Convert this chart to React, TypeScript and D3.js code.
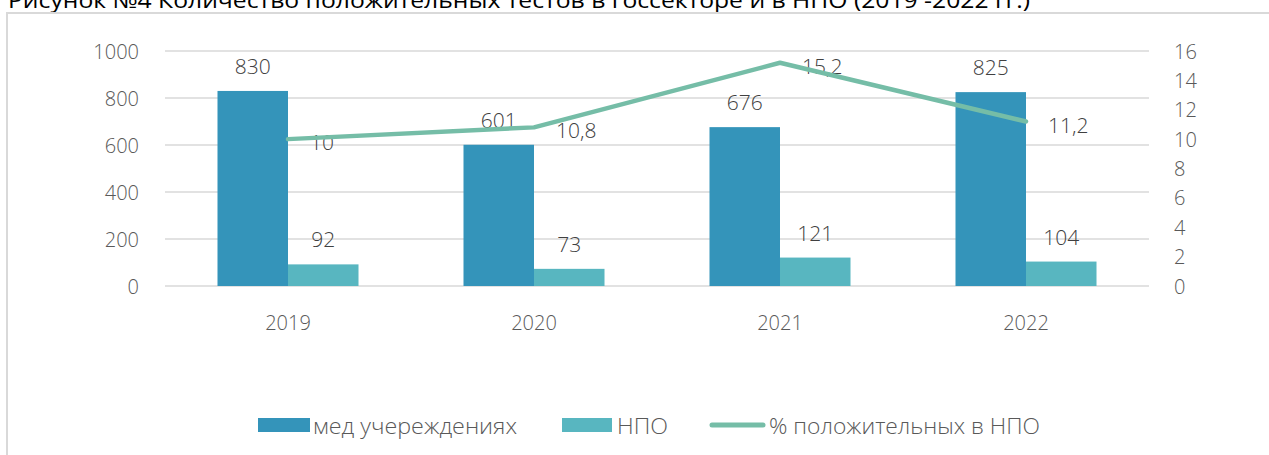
import React, { useEffect, useRef } from 'react';
import * as d3 from 'd3';

const years = ['2019', '2020', '2021', '2022'];
const medValues = [830, 601, 676, 825];
const npoValues = [92, 73, 121, 104];
const pctValues = [10, 10.8, 15.2, 11.2];
const leftTicks = [0, 200, 400, 600, 800, 1000];
const rightTicks = [0, 2, 4, 6, 8, 10, 12, 14, 16];
const seriesNames = ['мед учереждениях', 'НПО', '% положительных в НПО'];
const title = 'Рисунок №4 Количество положительных тестов в госсекторе и в НПО (2019 -2022 гг.)';

const W = 1269;
const H = 455;
const FONT = "'Open Sans', sans-serif";

export default function App() {
  const ref = useRef<SVGSVGElement>(null);

  useEffect(() => {
    const svg = d3.select(ref.current);
    svg.selectAll('*').remove();

    const m = { left: 165, right: 1149, top: 51, bottom: 286 };
    const blue = '#3494ba';
    const teal = '#58b6c0';
    const green = '#75bda7';

    // title, cut at the top like the source
    svg.append('text')
      .attr('x', 8).attr('y', 8)
      .attr('font-family', FONT).attr('font-size', 21)
      .attr('fill', '#000')
      .attr('textLength', 1022).attr('lengthAdjust', 'spacingAndGlyphs')
      .text(title);

    // chart frame
    svg.append('rect')
      .attr('x', 7).attr('y', 13)
      .attr('width', W).attr('height', H)
      .attr('fill', 'none').attr('stroke', '#d9d9d9').attr('stroke-width', 2);

    const x = d3.scaleBand().domain(years).range([m.left, m.right]).padding(0);
    const y = d3.scaleLinear().domain([0, 1000]).range([m.bottom, m.top]);
    const y2 = d3.scaleLinear().domain([0, 16]).range([m.bottom, m.top]);
    const bw = x.bandwidth() * 0.2866;
    const cx = (d: string) => (x(d) as number) + x.bandwidth() / 2;

    // gridlines
    svg.append('g').selectAll('line').data(leftTicks).join('line')
      .attr('x1', m.left).attr('x2', m.right)
      .attr('y1', d => y(d)).attr('y2', d => y(d))
      .attr('stroke', '#d9d9d9').attr('stroke-width', 1.5);

    const axisText = (g: any) => g
      .attr('font-family', FONT).attr('font-size', 20).attr('font-weight', 300).attr('fill', '#595959');

    // left axis labels
    svg.append('g').call(axisText).selectAll('text').data(leftTicks).join('text')
      .attr('x', 139).attr('y', d => y(d))
      .attr('text-anchor', 'end').attr('dominant-baseline', 'central')
      .text(d => d);

    // right axis labels
    svg.append('g').call(axisText).selectAll('text').data(rightTicks).join('text')
      .attr('x', 1174).attr('y', d => y2(d))
      .attr('dominant-baseline', 'central')
      .text(d => d);

    // x labels
    svg.append('g').call(axisText).selectAll('text').data(years).join('text')
      .attr('x', d => cx(d)).attr('y', 322)
      .attr('text-anchor', 'middle').attr('dominant-baseline', 'central')
      .text(d => d);

    // bars
    const bars = svg.append('g');
    bars.selectAll('rect.med').data(medValues).join('rect').attr('class', 'med')
      .attr('x', (d, i) => cx(years[i]) - bw).attr('width', bw)
      .attr('y', d => y(d)).attr('height', d => y(0) - y(d))
      .attr('fill', blue);
    bars.selectAll('rect.npo').data(npoValues).join('rect').attr('class', 'npo')
      .attr('x', (d, i) => cx(years[i])).attr('width', bw)
      .attr('y', d => y(d)).attr('height', d => y(0) - y(d))
      .attr('fill', teal);

    // bar labels
    const lab = svg.append('g')
      .attr('font-family', FONT).attr('font-size', 21).attr('font-weight', 300).attr('fill', '#404040');
    lab.selectAll('text.med').data(medValues).join('text').attr('class', 'med')
      .attr('x', (d, i) => cx(years[i]) - bw / 2).attr('y', d => y(d) - 25)
      .attr('text-anchor', 'middle').attr('dominant-baseline', 'central')
      .text(d => d);
    lab.selectAll('text.npo').data(npoValues).join('text').attr('class', 'npo')
      .attr('x', (d, i) => cx(years[i]) + bw / 2).attr('y', d => y(d) - 25)
      .attr('text-anchor', 'middle').attr('dominant-baseline', 'central')
      .text(d => d);

    // line
    const line = d3.line<number>()
      .x((d, i) => cx(years[i]))
      .y(d => y2(d));
    svg.append('path').datum(pctValues)
      .attr('d', line)
      .attr('fill', 'none').attr('stroke', green)
      .attr('stroke-width', 4.5).attr('stroke-linecap', 'round').attr('stroke-linejoin', 'round');

    lab.selectAll('text.pct').data(pctValues).join('text').attr('class', 'pct')
      .attr('x', (d, i) => cx(years[i]) + 22).attr('y', d => y2(d) + 3)
      .attr('dominant-baseline', 'central')
      .text(d => String(d).replace('.', ','));

    // legend
    const lg = svg.append('g').call(axisText).attr('font-size', 22);
    lg.append('rect').attr('x', 258).attr('y', 418).attr('width', 52).attr('height', 14).attr('fill', blue);
    lg.append('text').attr('x', 313).attr('y', 425).attr('dominant-baseline', 'central')
      .attr('textLength', 204).attr('lengthAdjust', 'spacingAndGlyphs').text(seriesNames[0]);
    lg.append('rect').attr('x', 562).attr('y', 418).attr('width', 50).attr('height', 14).attr('fill', teal);
    lg.append('text').attr('x', 617).attr('y', 425).attr('dominant-baseline', 'central')
      .attr('textLength', 51).attr('lengthAdjust', 'spacingAndGlyphs').text(seriesNames[1]);
    lg.append('line').attr('x1', 712).attr('x2', 763).attr('y1', 425).attr('y2', 425)
      .attr('stroke', green).attr('stroke-width', 5).attr('stroke-linecap', 'round');
    lg.append('text').attr('x', 769).attr('y', 425).attr('dominant-baseline', 'central')
      .attr('textLength', 271).attr('lengthAdjust', 'spacingAndGlyphs').text(seriesNames[2]);
  }, []);

  return (
    <svg ref={ref} width={W} height={H}
      style={{ position: 'absolute', left: 0, top: 0, background: '#fff' }} />
  );
}
